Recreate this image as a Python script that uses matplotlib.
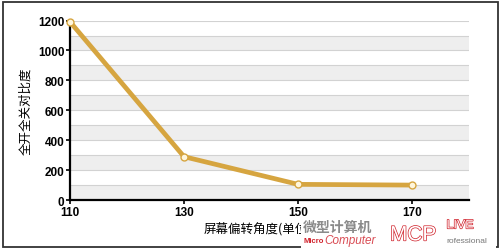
import matplotlib.pyplot as plt
import matplotlib.patheffects as pe
from matplotlib.patches import Rectangle

plt.rcParams['font.family'] = ['Liberation Sans', 'Noto Sans CJK SC', 'DejaVu Sans']

# data
angles = [110, 130, 150, 170]
contrast = [1192, 290, 105, 100]
x_ticks = [110, 130, 150, 170]
y_ticks = [0, 200, 400, 600, 800, 1000, 1200]
x_label = '屏幕偏转角度(单位：度)'
y_label = '全开全关对比度'

fig = plt.figure(figsize=(5, 2.51), dpi=100)
ax = fig.add_axes([0.14, 0.199, 0.798, 0.715])

# alternating horizontal bands + grid lines every 100
for i, lo in enumerate(range(0, 1200, 100)):
    if i % 2 == 0:
        ax.axhspan(lo, lo + 100, color='#eeeeee', zorder=0, lw=0)
    ax.axhline(lo + 100, color='#d2d2d2', lw=0.8, zorder=1)

ax.plot(angles, contrast, color='#d6a540', lw=3.4, solid_capstyle='round',
        marker='o', ms=5, mfc='#fff6dc', mec='#d6a540', mew=1.0,
        zorder=3, clip_on=False)

ax.set_xlim(110, 180)
ax.set_ylim(0, 1200)
ax.set_xticks(x_ticks)
ax.set_yticks(y_ticks)
ax.tick_params(axis='both', labelsize=8.5, length=3, width=1.2, pad=1)
for lab in ax.get_xticklabels() + ax.get_yticklabels():
    lab.set_fontweight('bold')

for s in ['top', 'right']:
    ax.spines[s].set_visible(False)
for s in ['left', 'bottom']:
    ax.spines[s].set_linewidth(1.6)

ax.set_ylabel(y_label, fontsize=9, family=['Noto Sans CJK SC'], labelpad=4)
fig.text(0.54, 0.087, x_label, fontsize=9, family=['Noto Sans CJK SC'],
         ha='center', va='center')

# outer frame
fig.patches.append(Rectangle((0.005, 0.01), 0.99, 0.98, transform=fig.transFigure,
                             fill=False, ec='#333333', lw=1.3))

# watermark in the lower right corner (covers the end of the x label, as in the source)
fig.patches.append(Rectangle((0.602, 0.0), 0.39, 0.125, transform=fig.transFigure,
                             fc='white', ec='none', zorder=5))
fig.text(0.606, 0.092, '微型计算机', fontsize=10, color='#8a8a8a', fontweight='bold',
         family=['Noto Sans CJK SC'], va='center', zorder=6)
fig.text(0.606, 0.038, 'Micro', fontsize=5.5, color='#d0202a', fontweight='bold',
         va='center', zorder=6)
fig.text(0.648, 0.038, 'Computer', fontsize=8.5, color='#d0202a', style='italic',
         va='center', zorder=6, alpha=0.8)
outline = [pe.withStroke(linewidth=1.0, foreground='#d0202a')]
fig.text(0.78, 0.06, 'MCP', fontsize=15, color='white', va='center', zorder=6,
         path_effects=outline)
fig.text(0.893, 0.098, 'LIVE', fontsize=9, color='white', va='center', zorder=6,
         path_effects=outline)
fig.text(0.893, 0.038, 'rofessional', fontsize=6, color='#777777', va='center',
         zorder=6)

fig.savefig('out.png', dpi=100)
